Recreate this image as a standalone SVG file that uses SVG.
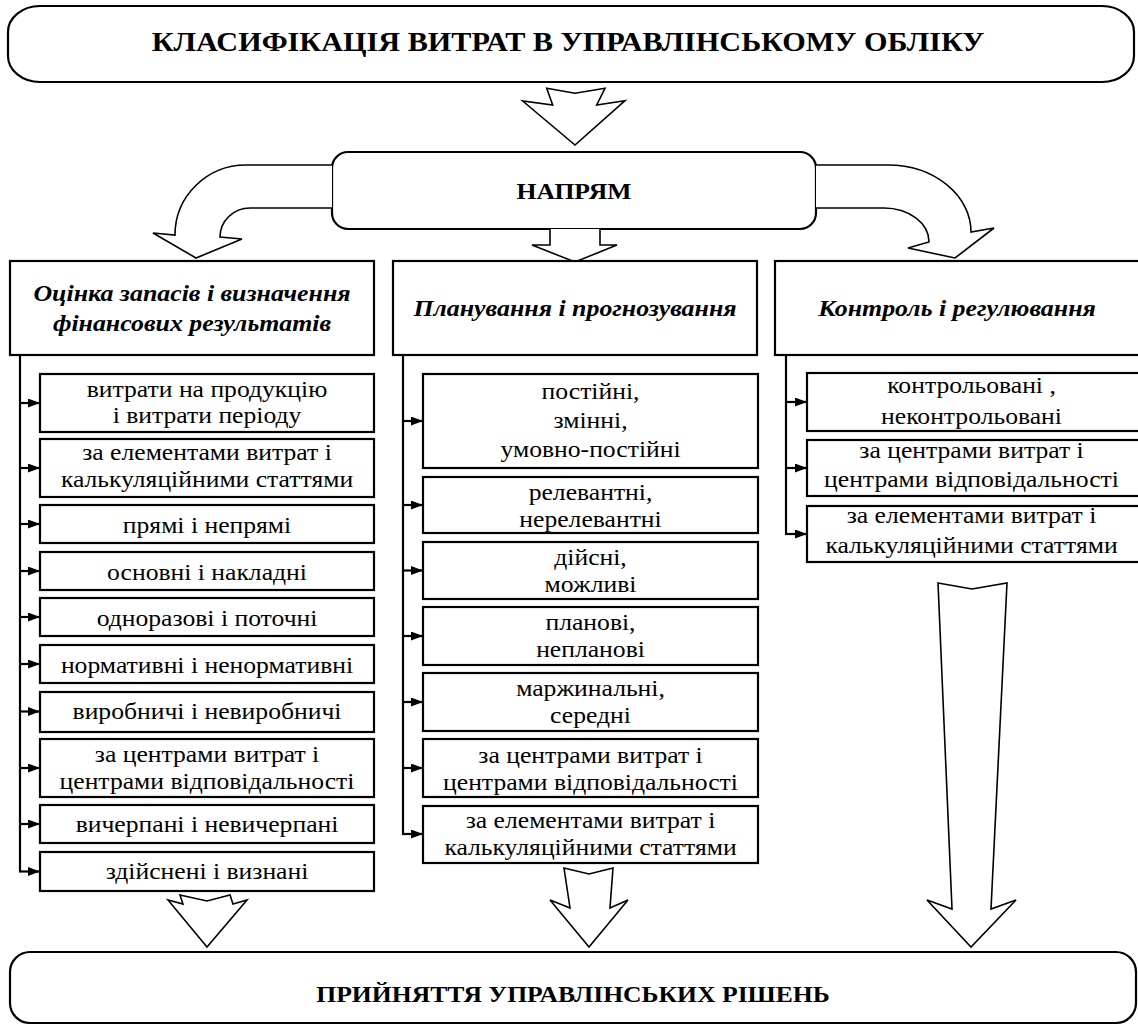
<svg xmlns="http://www.w3.org/2000/svg" width="1138" height="1025" viewBox="0 0 1138 1025">
  <style>
    .box { fill: #fff; stroke: #000; stroke-width: 2.2; }
    .blk { fill: #fff; stroke: #000; stroke-width: 1.6; stroke-linejoin: miter; }
    .ln { fill: none; stroke: #000; stroke-width: 2.2; }
    text { font-family: "Liberation Serif", "Times New Roman", Times, "DejaVu Serif", "Noto Serif", Tinos, serif; fill: #000; text-anchor: middle; }
    .it { font-size: 22.5px; }
    .hd { font-size: 22.7px; font-weight: bold; font-style: italic; }
    .tt { font-size: 26.5px; font-weight: bold; }
    .bt { font-size: 22.5px; font-weight: bold; }
  </style>
  <defs>
    <marker id="arr" markerUnits="userSpaceOnUse" markerWidth="12" markerHeight="10" refX="12" refY="4.5" orient="auto">
      <path d="M0,0 L12,4.5 L0,9 Z" fill="#000"/>
    </marker>
  </defs>
  <rect width="1138" height="1025" fill="#fff"/>

  <!-- title -->
  <g id="title">
    <rect class="box" x="8" y="6" width="1126" height="76" rx="32" ry="26"/>
    <text class="tt" transform="matrix(1.14,0,0,1,568,51)">КЛАСИФІКАЦІЯ ВИТРАТ В УПРАВЛІНСЬКОМУ  ОБЛІКУ</text>
  </g>

  <!-- direction node -->
  <g id="direction">
    <rect class="box" x="332" y="152" width="484" height="77" rx="16"/>
    <text class="bt" transform="matrix(1.14,0,0,1,574,199)">НАПРЯМ</text>
  </g>

  <!-- block arrows -->
  <g id="block-arrows">
    <path class="blk" d="M546.7,88.3 L575,93.3 L605,88.3 L596.7,105 L625,100.7 L575,145 L522.7,101 L552.7,105 Z"/>
    <path class="blk" d="M550,229 L550,245 L532,245 L575,262 L617,245 L600,245 L600,229"/>
    <path class="blk" d="M332,165 H246 A71,70 0 0 0 175,235 L153,233 L196,258 L242,239 L220,237 A30,29 0 0 1 250,208 H332"/>
    <path class="blk" d="M816,165 H888 A83,67 0 0 1 971,232 L994,228 L955,258 L908,248 L929,242 A45,34 0 0 0 884,208 H816"/>
    <path class="blk" d="M180,895 L207,901 L230,895 L233,904 L247,900 L207,947 L168,900 L183,904 Z"/>
    <path class="blk" d="M564,868 L589,874 L613,868 L610,908 L628,900 L589,947 L550,900 L570,908 Z"/>
    <path class="blk" d="M938,583 L972,589 L1007,583 L991,909 L1016,900 L971,947 L927,900 L952,909 Z"/>
  </g>

  <!-- column headers -->
  <g id="col-valuation">
    <rect class="box" x="10" y="261" width="364" height="94"/>
    <text class="hd" transform="matrix(1.14,0,0,1,192,301)">Оцінка запасів і визначення</text>
    <text class="hd" transform="matrix(1.14,0,0,1,192,331)">фінансових результатів</text>
  </g>
  <g id="col-planning">
    <rect class="box" x="393" y="261" width="364" height="94"/>
    <text class="hd" transform="matrix(1.14,0,0,1,575,316)">Планування і прогнозування</text>
  </g>
  <g id="col-control">
    <rect class="box" x="775" y="261" width="372" height="94"/>
    <text class="hd" transform="matrix(1.14,0,0,1,957,316)">Контроль і регулювання</text>
  </g>

  <!-- connectors -->
  <g id="connectors">
    <path class="ln" d="M20,355 V871.5"/>
    <path class="ln" d="M20,403 H40" marker-end="url(#arr)"/>
    <path class="ln" d="M20,468 H40" marker-end="url(#arr)"/>
    <path class="ln" d="M20,524 H40" marker-end="url(#arr)"/>
    <path class="ln" d="M20,571 H40" marker-end="url(#arr)"/>
    <path class="ln" d="M20,617 H40" marker-end="url(#arr)"/>
    <path class="ln" d="M20,664 H40" marker-end="url(#arr)"/>
    <path class="ln" d="M20,711.5 H40" marker-end="url(#arr)"/>
    <path class="ln" d="M20,768 H40" marker-end="url(#arr)"/>
    <path class="ln" d="M20,824 H40" marker-end="url(#arr)"/>
    <path class="ln" d="M19,871.5 H40" marker-end="url(#arr)"/>

    <path class="ln" d="M403,355 V834"/>
    <path class="ln" d="M403,421 H423" marker-end="url(#arr)"/>
    <path class="ln" d="M403,505 H423" marker-end="url(#arr)"/>
    <path class="ln" d="M403,570.5 H423" marker-end="url(#arr)"/>
    <path class="ln" d="M403,636 H423" marker-end="url(#arr)"/>
    <path class="ln" d="M403,702 H423" marker-end="url(#arr)"/>
    <path class="ln" d="M403,768 H423" marker-end="url(#arr)"/>
    <path class="ln" d="M402,834 H423" marker-end="url(#arr)"/>

    <path class="ln" d="M786,355 V534"/>
    <path class="ln" d="M786,402 H807" marker-end="url(#arr)"/>
    <path class="ln" d="M786,468 H807" marker-end="url(#arr)"/>
    <path class="ln" d="M785,534 H807" marker-end="url(#arr)"/>
  </g>

  <!-- valuation items -->
  <g id="v1"><rect class="box" x="40" y="374" width="334" height="58"/>
    <text class="it" transform="matrix(1.14,0,0,1,207,397)">витрати на продукцію</text>
    <text class="it" transform="matrix(1.14,0,0,1,207,423)">і витрати періоду</text></g>
  <g id="v2"><rect class="box" x="40" y="439" width="334" height="58"/>
    <text class="it" transform="matrix(1.14,0,0,1,207,460)">за елементами витрат і</text>
    <text class="it" transform="matrix(1.14,0,0,1,207,487)">калькуляційними статтями</text></g>
  <g id="v3"><rect class="box" x="40" y="505" width="334" height="38"/>
    <text class="it" transform="matrix(1.14,0,0,1,207,533)">прямі і непрямі</text></g>
  <g id="v4"><rect class="box" x="40" y="552" width="334" height="38"/>
    <text class="it" transform="matrix(1.14,0,0,1,207,580)">основні і накладні</text></g>
  <g id="v5"><rect class="box" x="40" y="598" width="334" height="38"/>
    <text class="it" transform="matrix(1.14,0,0,1,207,626)">одноразові і поточні</text></g>
  <g id="v6"><rect class="box" x="40" y="645" width="334" height="38"/>
    <text class="it" transform="matrix(1.14,0,0,1,207,673)">нормативні і ненормативні</text></g>
  <g id="v7"><rect class="box" x="40" y="692" width="334" height="40"/>
    <text class="it" transform="matrix(1.14,0,0,1,207,719)">виробничі і невиробничі</text></g>
  <g id="v8"><rect class="box" x="40" y="739" width="334" height="58"/>
    <text class="it" transform="matrix(1.14,0,0,1,207,762)">за центрами витрат і</text>
    <text class="it" transform="matrix(1.14,0,0,1,207,789)">центрами відповідальності</text></g>
  <g id="v9"><rect class="box" x="40" y="805" width="334" height="38"/>
    <text class="it" transform="matrix(1.14,0,0,1,207,832)">вичерпані і невичерпані</text></g>
  <g id="v10"><rect class="box" x="40" y="852" width="334" height="39"/>
    <text class="it" transform="matrix(1.14,0,0,1,207,879)">здійснені і визнані</text></g>

  <!-- planning items -->
  <g id="p1"><rect class="box" x="423" y="374" width="335" height="94"/>
    <text class="it" transform="matrix(1.14,0,0,1,590.5,399)">постійні,</text>
    <text class="it" transform="matrix(1.14,0,0,1,590.5,428)">змінні,</text>
    <text class="it" transform="matrix(1.14,0,0,1,590.5,457)">умовно-постійні</text></g>
  <g id="p2"><rect class="box" x="423" y="477" width="335" height="56"/>
    <text class="it" transform="matrix(1.14,0,0,1,590.5,500)">релевантні,</text>
    <text class="it" transform="matrix(1.14,0,0,1,590.5,527)">нерелевантні</text></g>
  <g id="p3"><rect class="box" x="423" y="542" width="335" height="57"/>
    <text class="it" transform="matrix(1.14,0,0,1,590.5,565)">дійсні,</text>
    <text class="it" transform="matrix(1.14,0,0,1,590.5,592)">можливі</text></g>
  <g id="p4"><rect class="box" x="423" y="607" width="335" height="58"/>
    <text class="it" transform="matrix(1.14,0,0,1,590.5,630)">планові,</text>
    <text class="it" transform="matrix(1.14,0,0,1,590.5,657)">непланові</text></g>
  <g id="p5"><rect class="box" x="423" y="673" width="335" height="58"/>
    <text class="it" transform="matrix(1.14,0,0,1,590.5,696)">маржинальні,</text>
    <text class="it" transform="matrix(1.14,0,0,1,590.5,723)">середні</text></g>
  <g id="p6"><rect class="box" x="423" y="739" width="335" height="58"/>
    <text class="it" transform="matrix(1.14,0,0,1,590.5,763)">за центрами витрат і</text>
    <text class="it" transform="matrix(1.14,0,0,1,590.5,790)">центрами відповідальності</text></g>
  <g id="p7"><rect class="box" x="423" y="806" width="335" height="57"/>
    <text class="it" transform="matrix(1.14,0,0,1,590.5,828)">за елементами витрат і</text>
    <text class="it" transform="matrix(1.14,0,0,1,590.5,855)">калькуляційними статтями</text></g>

  <!-- control items -->
  <g id="c1"><rect class="box" x="807" y="373" width="340" height="58"/>
    <text class="it" transform="matrix(1.14,0,0,1,971.5,393)">контрольовані ,</text>
    <text class="it" transform="matrix(1.14,0,0,1,971.5,424)">неконтрольовані</text></g>
  <g id="c2"><rect class="box" x="807" y="440" width="340" height="56"/>
    <text class="it" transform="matrix(1.14,0,0,1,971.5,458)">за центрами витрат і</text>
    <text class="it" transform="matrix(1.14,0,0,1,971.5,487)">центрами відповідальності</text></g>
  <g id="c3"><rect class="box" x="807" y="506" width="340" height="56"/>
    <text class="it" transform="matrix(1.14,0,0,1,971.5,523)">за елементами витрат і</text>
    <text class="it" transform="matrix(1.14,0,0,1,971.5,553)">калькуляційними статтями</text></g>

  <!-- decisions -->
  <g id="decisions">
    <rect class="box" x="10" y="952" width="1126" height="71" rx="20"/>
    <text class="bt" transform="matrix(1.14,0,0,1,573,1002)">ПРИЙНЯТТЯ УПРАВЛІНСЬКИХ РІШЕНЬ</text>
  </g>
</svg>
